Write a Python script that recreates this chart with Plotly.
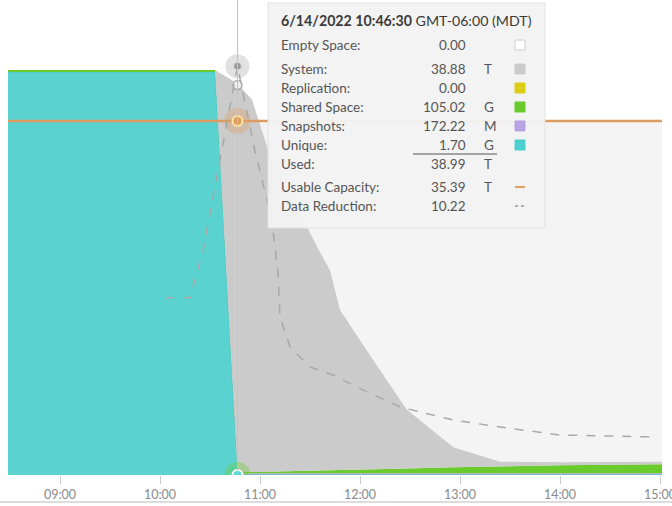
import plotly.graph_objects as go

DAY = "2022-06-14 "

# stacked capacity series (TB)
stack_times = ["08:28:48", "10:33:00", "10:46:30", "10:55:12", "11:04:48", "11:19:12",
               "11:28:12", "11:35:24", "11:42:00", "11:48:00", "12:08:00", "12:28:00",
               "12:56:00", "13:24:00", "14:00:00", "15:01:12"]
unique_tb = [40.3, 40.3, 0.0017, 0.0017, 0.0017, 0.0017, 0.0017, 0.0017,
             0.0017, 0.0017, 0.0017, 0.0017, 0.0017, 0.0017, 0.0017, 0.0017]
snapshots_tb = [0, 0, 0.17, 0.17, 0.17, 0.17, 0.17, 0.17,
                0.17, 0.17, 0.17, 0.17, 0.17, 0.17, 0.17, 0.17]
shared_tb = [0.2, 0.2, 0.105, 0.15, 0.18, 0.22, 0.25, 0.28,
             0.3, 0.32, 0.4, 0.48, 0.6, 0.7, 0.8, 0.9]
replication_tb = [0] * 16
system_tb = [0, 0, 38.88, 37.2, 32.2, 27.1, 24.4, 22.0,
             20.0, 16.0, 10.9, 5.9, 2.0, 0.45, 0.3, 0.25]

# usable capacity (TB)
cap_times = ["08:28:48", "15:01:12"]
cap_tb = [35.39, 35.39]

# data reduction ratio
dr_times = ["10:03:00", "10:18:00", "10:25:48", "10:46:30", "10:57:00", "11:07:00",
            "11:10:48", "11:12:00", "11:18:00", "11:30:00", "11:43:48", "11:58:00",
            "12:24:00", "12:55:48", "13:24:00", "14:00:00", "14:58:00"]
dr_vals = [4.43, 4.43, 5.6, 10.22, 8.1, 6.4, 5.05, 3.95, 3.2, 2.7, 2.5, 2.2,
           1.7, 1.375, 1.2, 1.0, 0.95]

# hover tooltip content
hover_time = "10:46:30"
hover_used = 38.99
tip_title_bold = "6/14/2022 10:46:30"
tip_title_rest = " GMT-06:00 (MDT)"
tip_labels = ["Empty Space:", "System:", "Replication:", "Shared Space:", "Snapshots:",
              "Unique:", "Used:", "Usable Capacity:", "Data Reduction:"]
tip_values = ["0.00", "38.88", "0.00", "105.02", "172.22", "1.70", "38.99", "35.39", "10.22"]
tip_units = ["", "T", "", "G", "M", "G", "T", "T", ""]

C_UNIQUE = "#5ad3d0"
C_SNAP = "#b8a4e3"
C_SHARED = "#6acb2c"
C_REPL = "#dccd16"
C_SYSTEM = "#cbcbcb"
C_EMPTY = "#f4f4f4"
C_CAP = "#dd9c62"
C_DR = "#a8a8a8"

W, H = 672, 506
ML, MR, MT, MB = 8, 10, 0, 31
PW, PH = W - ML - MR, H - MT - MB


def px(x):
    return (x - ML) / PW


def py(y):
    return (H - MB - y) / PH


def ts(lst):
    return [DAY + t for t in lst]


fig = go.Figure()

# empty space backdrop up to usable capacity
fig.add_trace(go.Scatter(x=ts(cap_times), y=cap_tb, mode="lines", line=dict(width=0),
                         fill="tozeroy", fillcolor=C_EMPTY, hoverinfo="skip"))

x_stack = ts(stack_times)
for vals, col, edge, lw in [(unique_tb, C_UNIQUE, "#45c9c6", 1), (snapshots_tb, C_SNAP, C_SNAP, 0),
                            (shared_tb, C_SHARED, C_SHARED, 0), (replication_tb, C_REPL, C_REPL, 0),
                            (system_tb, C_SYSTEM, C_SYSTEM, 0)]:
    fig.add_trace(go.Scatter(x=x_stack, y=vals, mode="lines", stackgroup="cap",
                             line=dict(width=lw, color=edge), fillcolor=col, hoverinfo="skip"))

fig.add_trace(go.Scatter(x=ts(cap_times), y=cap_tb, mode="lines",
                         line=dict(color=C_CAP, width=2.5), hoverinfo="skip"))
fig.add_trace(go.Scatter(x=ts(dr_times), y=dr_vals, mode="lines", yaxis="y2",
                         line=dict(color=C_DR, width=1.5, dash="dash"), hoverinfo="skip"))

# hover markers
hx = [DAY + hover_time]
fig.add_trace(go.Scatter(x=hx, y=[dr_vals[3]], yaxis="y2", mode="markers", hoverinfo="skip",
                         marker=dict(size=24, color="rgba(170,170,170,0.35)")))
fig.add_trace(go.Scatter(x=hx, y=[dr_vals[3]], yaxis="y2", mode="markers", hoverinfo="skip",
                         marker=dict(size=8, color="#9a9a9a", line=dict(color="#dddddd", width=1))))
fig.add_trace(go.Scatter(x=hx, y=[hover_used], mode="markers", hoverinfo="skip",
                         marker=dict(size=9, color="#eeeeee", line=dict(color="#aaaaaa", width=1.5))))
fig.add_trace(go.Scatter(x=hx, y=[cap_tb[0]], mode="markers", hoverinfo="skip",
                         marker=dict(size=26, color="rgba(221,156,98,0.35)")))
fig.add_trace(go.Scatter(x=hx, y=[cap_tb[0]], mode="markers", hoverinfo="skip",
                         marker=dict(size=10, color=C_CAP, line=dict(color="#fbe7a6", width=2))))
fig.add_trace(go.Scatter(x=hx, y=[unique_tb[2]], mode="markers", hoverinfo="skip",
                         marker=dict(size=26, color="rgba(106,203,44,0.35)")))
fig.add_trace(go.Scatter(x=hx, y=[unique_tb[2]], mode="markers", hoverinfo="skip",
                         marker=dict(size=10, color=C_UNIQUE, line=dict(color="white", width=2))))

shapes = [
    # crosshair
    dict(type="line", xref="x", yref="paper", x0=hx[0], x1=hx[0], y0=0, y1=1,
         line=dict(color="#c4c4c4", width=1), layer="above"),
    # bottom rule
    dict(type="line", xref="paper", yref="paper", x0=px(0), x1=px(W), y0=py(502), y1=py(502),
         line=dict(color="#d0d0d0", width=1.5)),
    # tooltip box
    dict(type="rect", xref="paper", yref="paper", x0=px(268), x1=px(545), y0=py(228), y1=py(3),
         fillcolor="rgba(243,243,243,0.96)", line=dict(color="#e2e2e2", width=1), layer="above"),
    # underline above Used
    dict(type="line", xref="paper", yref="paper", x0=px(413), x1=px(497), y0=py(154), y1=py(154),
         line=dict(color="#555555", width=1), layer="above"),
]

FONT = "Lato, 'Open Sans', sans-serif"
annotations = [
    dict(xref="paper", yref="paper", x=px(279), y=py(20), xanchor="left", yanchor="middle",
         showarrow=False, text="<b>" + tip_title_bold + "</b>" + tip_title_rest,
         font=dict(family=FONT, size=14.2, color="#3a3a3a")),
]
row_y = [45, 69, 88, 107, 126, 145, 164, 187, 206]
swatches = ["empty", C_SYSTEM, C_REPL, C_SHARED, C_SNAP, "#4ecfcf", None, "cap", "dr"]
for lab, val, unit, ry, sw in zip(tip_labels, tip_values, tip_units, row_y, swatches):
    annotations.append(dict(xref="paper", yref="paper", x=px(279), y=py(ry), xanchor="left",
                            yanchor="middle", showarrow=False, text=lab,
                            font=dict(family=FONT, size=13.5, color="#555555")))
    annotations.append(dict(xref="paper", yref="paper", x=px(468), y=py(ry), xanchor="right",
                            yanchor="middle", showarrow=False, text=val,
                            font=dict(family=FONT, size=13.5, color="#555555")))
    if unit:
        annotations.append(dict(xref="paper", yref="paper", x=px(482), y=py(ry), xanchor="left",
                                yanchor="middle", showarrow=False, text=unit,
                                font=dict(family=FONT, size=13.5, color="#555555")))
    if sw is None:
        continue
    if sw == "cap":
        shapes.append(dict(type="line", xref="paper", yref="paper", x0=px(515), x1=px(525),
                           y0=py(ry), y1=py(ry), line=dict(color=C_CAP, width=2), layer="above"))
    elif sw == "dr":
        shapes.append(dict(type="line", xref="paper", yref="paper", x0=px(515), x1=px(526),
                           y0=py(ry), y1=py(ry), line=dict(color="#999999", width=1.5, dash="dot"),
                           layer="above"))
    else:
        fill = "white" if sw == "empty" else sw
        border = "#cccccc" if sw == "empty" else sw
        shapes.append(dict(type="rect", xref="paper", yref="paper", x0=px(515), x1=px(525),
                           y0=py(ry + 5), y1=py(ry - 5), fillcolor=fill,
                           line=dict(color=border, width=1), layer="above"))

fig.update_layout(
    width=W, height=H,
    margin=dict(l=ML, r=MR, t=MT, b=MB),
    paper_bgcolor="white", plot_bgcolor="white",
    showlegend=False,
    xaxis=dict(range=[DAY + "08:28:48", DAY + "15:01:12"], type="date", tickformat="%H:%M",
               dtick=3600000, tick0=DAY + "09:00:00", showgrid=False, zeroline=False,
               ticks="outside", ticklen=8, tickcolor="#cccccc", ticklabeloverflow="allow",
               automargin=False,
               tickfont=dict(family=FONT, size=12.5, color="#8a8a8a")),
    yaxis=dict(range=[0, 47.5], visible=False, showgrid=False),
    yaxis2=dict(range=[0, 11.875], overlaying="y", visible=False, showgrid=False),
    shapes=shapes,
    annotations=annotations,
)

# the page's default body margin would shift the figure by 8px
fig.write_html("out.html", config={"displayModeBar": False},
               post_script="document.body.style.margin='0';document.body.style.overflow='hidden';")
